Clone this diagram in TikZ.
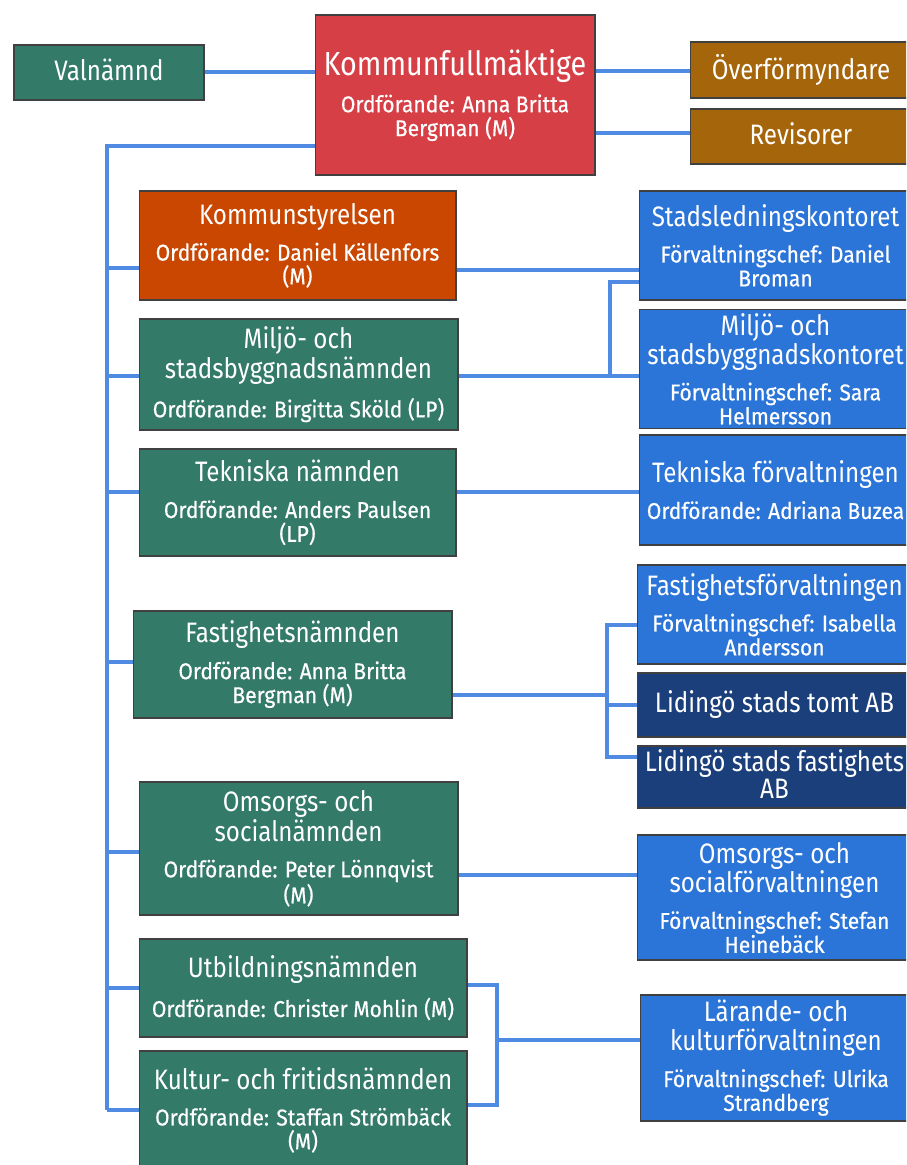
\documentclass[tikz,border=0pt]{standalone}
\usepackage{fontspec}
\setmainfont[FakeStretch=0.86]{Fira Sans}
\newfontfamily\ordffont[FakeStretch=0.92,FakeBold=0.5]{Fira Sans}

\definecolor{namndgron}{RGB}{51,122,105}
\definecolor{kfrod}{RGB}{214,63,69}
\definecolor{revbrun}{RGB}{165,101,11}
\definecolor{ksorange}{RGB}{201,71,0}
\definecolor{forvblå}{RGB}{43,116,216}
\definecolor{bolagbla}{RGB}{27,63,122}
\definecolor{linjebla}{RGB}{79,139,227}

\newcommand{\rubrik}{\fontsize{16}{13.6}\selectfont\rule[-3pt]{0pt}{11.5pt}}
\newcommand{\ordf}{\ordffont\fontsize{13}{13.6}\selectfont}

\tikzset{
  ruta/.style={draw=black!75, line width=0.6pt, text=white, align=center, inner sep=2pt,
    font=\fontsize{13}{13.6}\selectfont},
  namnd/.style={ruta, fill=namndgron},
  forv/.style={ruta, fill=forvblå},
  bolag/.style={ruta, fill=bolagbla},
  linje/.style={draw=linjebla, line width=2pt}
}

\begin{document}
\begin{tikzpicture}[x=0.02cm, y=-0.02cm]
\useasboundingbox (0,0) rectangle (906,1165);
\clip (0,0) rectangle (906,1165);

% översta raden
\node[namnd, minimum width=3.8cm, minimum height=1.1cm] (val) at (109,72.5) {\rubrik Valnämnd};
\node[ruta, fill=kfrod, minimum width=5.6cm, minimum height=3.2cm] (kf) at (455,95)
  {\fontsize{19}{14}\selectfont Kommunfullmäktige\\[6pt]\ordf Ordförande: Anna Britta\\\ordf Bergman (M)};
\node[ruta, fill=revbrun, minimum width=4.44cm, minimum height=1.12cm] (ofm) at (801,70) {\rubrik Överförmyndare};
\node[ruta, fill=revbrun, minimum width=4.44cm, minimum height=1.1cm] (rev) at (801,136.5) {\rubrik Revisorer};

% nämnder
\node[ruta, fill=ksorange, minimum width=6.34cm, minimum height=2.18cm] (ks) at (297.5,245.5)
  {\rubrik Kommunstyrelsen\\[7pt]\ordf Ordförande: Daniel Källenfors\\\ordf (M)};
\node[namnd, minimum width=6.38cm, minimum height=2.22cm] (msn) at (298.5,374.5)
  {\rubrik Miljö- och\\\rubrik stadsbyggnadsnämnden\\[7pt]\ordf Ordförande: Birgitta Sköld (LP)};
\node[namnd, minimum width=6.34cm, minimum height=2.14cm] (tn) at (297.5,502.5)
  {\rubrik Tekniska nämnden\\[7pt]\ordf Ordförande: Anders Paulsen\\\ordf (LP)};
\node[namnd, minimum width=6.38cm, minimum height=2.14cm] (fn) at (292.5,664.5)
  {\rubrik Fastighetsnämnden\\[7pt]\ordf Ordförande: Anna Britta\\\ordf Bergman (M)};
\node[namnd, minimum width=6.38cm, minimum height=2.66cm] (osn) at (298.5,848.5)
  {\rubrik Omsorgs- och\\\rubrik socialnämnden\\[7pt]\ordf Ordförande: Peter Lönnqvist\\\ordf (M)};
\node[namnd, minimum width=6.56cm, minimum height=1.96cm] (un) at (303,988)
  {\rubrik Utbildningsnämnden\\[7pt]\ordf Ordförande: Christer Mohlin (M)};
\node[namnd, minimum width=6.56cm, minimum height=2.36cm] (kfn) at (303,1110)
  {\rubrik Kultur- och fritidsnämnden\\[7pt]\ordf Ordförande: Staffan Strömbäck\\\ordf (M)};

% förvaltningar och bolag
\node[forv, minimum width=5.46cm, minimum height=2.18cm] (slk) at (775.5,245.5)
  {\rubrik Stadsledningskontoret\\[7pt]\ordf Förvaltningschef: Daniel\\\ordf Broman};
\node[forv, minimum width=5.46cm, minimum height=2.36cm] (msk) at (775.5,369)
  {\rubrik Miljö- och\\\rubrik stadsbyggnadskontoret\\[7pt]\ordf Förvaltningschef: Sara\\\ordf Helmersson};
\node[forv, minimum width=5.46cm, minimum height=2.2cm] (tf) at (775.5,490)
  {\rubrik Tekniska förvaltningen\\[7pt]\ordf Ordförande: Adriana Buzea};
\node[forv, minimum width=5.5cm, minimum height=1.98cm] (ff) at (774.5,614.5)
  {\rubrik Fastighetsförvaltningen\\[7pt]\ordf Förvaltningschef: Isabella\\\ordf Andersson};
\node[bolag, minimum width=5.5cm, minimum height=1.28cm] (tomt) at (774.5,705) {\rubrik Lidingö stads tomt AB};
\node[bolag, minimum width=5.5cm, minimum height=1.24cm] (fab) at (774.5,777)
  {\rubrik Lidingö stads fastighets\\\rubrik AB};
\node[forv, minimum width=5.5cm, minimum height=2.5cm] (osf) at (774.5,897.5)
  {\rubrik Omsorgs- och\\\rubrik socialförvaltningen\\[7pt]\ordf Förvaltningschef: Stefan\\\ordf Heinebäck};
\node[forv, minimum width=5.44cm, minimum height=2.52cm] (lkf) at (776,1058)
  {\rubrik Lärande- och\\\rubrik kulturförvaltningen\\[7pt]\ordf Förvaltningschef: Ulrika\\\ordf Strandberg};

% linjer kring fullmäktige
\draw[linje] (val.east |- 0,72) -- (kf.west |- 0,72);
\draw[linje] (kf.east |- 0,71) -- (ofm.west |- 0,71);
\draw[linje] (kf.east |- 0,133) -- (rev.west |- 0,133);

% stammen till nämnderna
\coordinate (stam) at (107,146);
\draw[linje] (kf.west |- stam) -- (stam) -- (stam |- 0,1110);
\foreach \n/\y in {ks/268, msn/376, tn/492, fn/662, osn/852, un/988, kfn/1110}
  \draw[linje] (stam |- 0,\y) -- (\n.west |- 0,\y);

% nämnd -> förvaltning
\draw[linje] (ks.east |- 0,270) -- (slk.west |- 0,270);
\draw[linje] (msn.east |- 0,376) -- (msk.west |- 0,376);
\draw[linje] (tn.east |- 0,492) -- (tf.west |- 0,492);
\draw[linje] (osn.east |- 0,875) -- (osf.west |- 0,875);
\draw[linje] (slk.west |- 0,282) -- (610,282) -- (610,376);

% fastigheter
\coordinate (fgren) at (607,695);
\draw[linje] (fn.east |- fgren) -- (fgren);
\draw[linje] (ff.west |- 0,625) -- (fgren |- 0,625) -- (fgren |- 0,757) -- (fab.west |- 0,757);
\draw[linje] (fgren |- tomt.west) -- (tomt.west);

% utbildning och kultur
\coordinate (ugren) at (497,1040);
\draw[linje] (un.east |- 0,985) -- (ugren |- 0,985) -- (ugren |- 0,1105) -- (kfn.east |- 0,1105);
\draw[linje] (ugren) -- (lkf.west |- ugren);

\end{tikzpicture}
\end{document}
